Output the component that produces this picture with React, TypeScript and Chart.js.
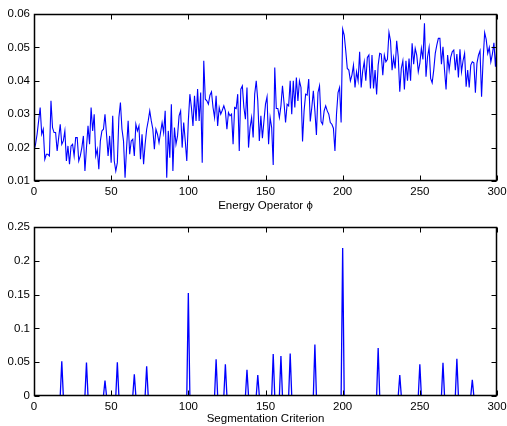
import React, { useEffect, useRef } from "react";
import { Chart, registerables } from "chart.js";

Chart.register(...registerables);

// Energy operator values for x = 0 .. 300
const energyOperator: number[] = [
  0.019, 0.021, 0.024, 0.028, 0.032, 0.024, 0.0255, 0.0165, 0.018, 0.018,
  0.0175, 0.034, 0.026, 0.0245, 0.0245, 0.019, 0.023, 0.027, 0.021, 0.022,
  0.025, 0.016, 0.0205, 0.015, 0.0205, 0.021, 0.0175, 0.023, 0.023, 0.016,
  0.0175, 0.02, 0.0235, 0.013, 0.02, 0.0265, 0.021, 0.032, 0.025, 0.03,
  0.0175, 0.0195, 0.0135, 0.022, 0.025, 0.0255, 0.03, 0.024, 0.0175, 0.0235,
  0.0155, 0.0295, 0.016, 0.013, 0.0155, 0.029, 0.0335, 0.0255, 0.022, 0.011,
  0.02, 0.028, 0.018, 0.022, 0.0225, 0.0175, 0.027, 0.025, 0.0265, 0.0165,
  0.024, 0.015, 0.021, 0.0255, 0.028, 0.031, 0.028, 0.0255, 0.0195, 0.0255,
  0.024, 0.0215, 0.0245, 0.0275, 0.0245, 0.031, 0.011, 0.025, 0.017, 0.033,
  0.013, 0.026, 0.021, 0.0235, 0.0295, 0.031, 0.02, 0.0275, 0.022, 0.016,
  0.028, 0.036, 0.032, 0.0265, 0.0355, 0.028, 0.0375, 0.028, 0.0365, 0.0155,
  0.046, 0.0345, 0.034, 0.033, 0.0357, 0.0367, 0.032, 0.029, 0.0355, 0.0265,
  0.032, 0.03, 0.0312, 0.0325, 0.031, 0.0255, 0.0305, 0.0295, 0.03, 0.021,
  0.032, 0.0317, 0.036, 0.019, 0.0375, 0.0385, 0.032, 0.0285, 0.038, 0.02,
  0.026, 0.029, 0.023, 0.036, 0.04, 0.034, 0.022, 0.0295, 0.0228, 0.028,
  0.033, 0.0352, 0.021, 0.029, 0.026, 0.0148, 0.044, 0.0317, 0.0317, 0.029,
  0.0325, 0.0385, 0.0335, 0.0275, 0.033, 0.0325, 0.04, 0.03, 0.04, 0.032,
  0.041, 0.034, 0.04, 0.038, 0.0218, 0.031, 0.036, 0.0357, 0.0405, 0.0278,
  0.032, 0.037, 0.031, 0.0238, 0.0365, 0.0385, 0.0278, 0.027, 0.031, 0.0325,
  0.031, 0.03, 0.0275, 0.027, 0.0258, 0.019, 0.03, 0.0365, 0.038, 0.0275,
  0.0555, 0.0537, 0.049, 0.0437, 0.0432, 0.04, 0.0417, 0.0447, 0.038, 0.0427,
  0.04, 0.0487, 0.038, 0.043, 0.0457, 0.04, 0.047, 0.0477, 0.0377, 0.0477,
  0.0377, 0.0432, 0.0359, 0.0447, 0.0482, 0.048, 0.0417, 0.0477, 0.0457, 0.0464,
  0.0545, 0.052, 0.0432, 0.047, 0.0437, 0.052, 0.0472, 0.0367, 0.0437, 0.046,
  0.0374, 0.046, 0.04, 0.0467, 0.04, 0.0512, 0.045, 0.0497, 0.0477, 0.0427,
  0.0452, 0.0497, 0.0464, 0.0572, 0.0412, 0.0472, 0.05, 0.0407, 0.0394, 0.0432,
  0.0482, 0.0507, 0.0527, 0.0527, 0.045, 0.0502, 0.0432, 0.0374, 0.0477, 0.0432,
  0.047, 0.0487, 0.0492, 0.0432, 0.048, 0.041, 0.0494, 0.0427, 0.046, 0.0482,
  0.0382, 0.0432, 0.038, 0.0447, 0.0457, 0.0454, 0.0364, 0.0452, 0.0477, 0.049,
  0.0352, 0.0462, 0.0544, 0.0524, 0.0482, 0.05, 0.0457, 0.048, 0.0514, 0.0442,
  0.051,
];

// Segmentation criterion: non-zero values at these positions, zero elsewhere
const spikePositions: number[] = [
  18, 34, 46, 54, 65, 73, 100, 118, 124, 138, 145, 155, 160, 166, 182, 200,
  223, 237, 250, 265, 274, 284,
];
const spikeHeights: number[] = [
  0.0515, 0.0495, 0.023, 0.05, 0.032, 0.044, 0.1525, 0.0545, 0.047, 0.0386,
  0.031, 0.062, 0.059, 0.063, 0.076, 0.219, 0.071, 0.031, 0.047, 0.049, 0.055,
  0.024,
];
const criterionLength = 301;

const xTicks: number[] = [0, 50, 100, 150, 200, 250, 300];
const energyTicks: number[] = [0.01, 0.02, 0.03, 0.04, 0.05, 0.06];
const criterionTicks: number[] = [0, 0.05, 0.1, 0.15, 0.2, 0.25];

const topTitle = "Energy Operator \u03d5";
const bottomTitle = "Segmentation Criterion";

const FONT = "'Liberation Sans', Arial, Helvetica, sans-serif";
const TICK_FONT = { family: FONT, size: 11.5 };
const TITLE_FONT = { family: FONT, size: 11.5 };

const framePlugin = {
  id: "matlabFrame",
  afterDraw(chart: any) {
    const { ctx, chartArea: a, scales } = chart;
    const L = Math.round(a.left) + 0.5;
    const R = Math.round(a.right) - 0.5;
    const T = Math.round(a.top) + 0.5;
    const B = Math.round(a.bottom) - 0.5;
    const len = 5;
    ctx.save();
    ctx.strokeStyle = "#000";
    ctx.lineWidth = 1;
    ctx.beginPath();
    for (const t of scales.x.ticks) {
      const px = Math.round(scales.x.getPixelForValue(t.value)) + 0.5;
      ctx.moveTo(px, B);
      ctx.lineTo(px, B - len);
      ctx.moveTo(px, T);
      ctx.lineTo(px, T + len);
    }
    for (const t of scales.y.ticks) {
      const py = Math.round(scales.y.getPixelForValue(t.value)) + 0.5;
      ctx.moveTo(L, py);
      ctx.lineTo(L + len, py);
      ctx.moveTo(R, py);
      ctx.lineTo(R - len, py);
    }
    ctx.stroke();
    ctx.lineWidth = 1.5;
    ctx.strokeRect(L, T, R - L, B - T);
    ctx.restore();
  },
};

function fmt(v: number): string {
  return String(parseFloat(v.toFixed(2)));
}

function makeConfig(
  points: { x: number; y: number }[],
  yTicks: number[],
  title: string,
  lineWidth: number,
  xAxisHeight: number,
  yFmt: (v: number) => string
): any {
  return {
    type: "line",
    data: {
      datasets: [
        {
          data: points,
          borderColor: "#0000ff",
          borderWidth: lineWidth,
          pointRadius: 0,
          tension: 0,
          fill: false,
        },
      ],
    },
    options: {
      animation: false,
      responsive: false,
      devicePixelRatio: 1,
      layout: { padding: { top: 14, right: 10, left: 0, bottom: 0 } },
      plugins: { legend: { display: false }, tooltip: { enabled: false } },
      scales: {
        x: {
          type: "linear",
          min: xTicks[0],
          max: xTicks[xTicks.length - 1],
          afterBuildTicks: (s: any) => {
            s.ticks = xTicks.map((v) => ({ value: v }));
          },
          afterFit: (s: any) => {
            s.height = xAxisHeight;
            s.paddingLeft = 0;
            s.paddingRight = 0;
          },
          grid: { display: false, drawTicks: false },
          border: { display: false },
          ticks: {
            color: "#000",
            font: TICK_FONT,
            padding: 4,
            maxRotation: 0,
            autoSkip: false,
            callback: (v: number) => String(v),
          },
          title: {
            display: true,
            text: title,
            color: "#000",
            font: TITLE_FONT,
            padding: { top: 0, bottom: 0 },
          },
        },
        y: {
          type: "linear",
          min: yTicks[0],
          max: yTicks[yTicks.length - 1],
          afterBuildTicks: (s: any) => {
            s.ticks = yTicks.map((v) => ({ value: v }));
          },
          afterFit: (s: any) => {
            s.width = 34;
            s.paddingTop = 0;
            s.paddingBottom = 0;
          },
          grid: { display: false, drawTicks: false },
          border: { display: false },
          ticks: {
            color: "#000",
            font: TICK_FONT,
            padding: 4,
            autoSkip: false,
            callback: (v: number) => yFmt(v),
          },
        },
      },
    },
    plugins: [framePlugin],
  };
}

function PlotCanvas({ config, top }: { config: () => any; top: number }) {
  const ref = useRef<HTMLCanvasElement | null>(null);
  useEffect(() => {
    if (!ref.current) return;
    const chart = new Chart(ref.current, config());
    return () => chart.destroy();
  }, []);
  return (
    <canvas
      ref={ref}
      width={507}
      height={213}
      style={{ position: "absolute", left: 0, top, width: 507, height: 213, display: "block" }}
    />
  );
}

export default function App() {
  const energyPoints = () =>
    energyOperator.map((y, i) => ({ x: i, y }));
  const criterionPoints = () => {
    const vals: number[] = new Array(criterionLength).fill(0);
    spikePositions.forEach((p, i) => {
      vals[p] = spikeHeights[i];
    });
    return vals.map((y, i) => ({ x: i, y }));
  };
  return (
    <div style={{ position: "fixed", left: 0, top: 0, width: 507, height: 426, background: "#fff" }}>
      <PlotCanvas
        top={0}
        config={() => makeConfig(energyPoints(), energyTicks, topTitle, 1.1, 32, fmt)}
      />
      <PlotCanvas
        top={213}
        config={() => makeConfig(criterionPoints(), criterionTicks, bottomTitle, 1.3, 30, fmt)}
      />
    </div>
  );
}
